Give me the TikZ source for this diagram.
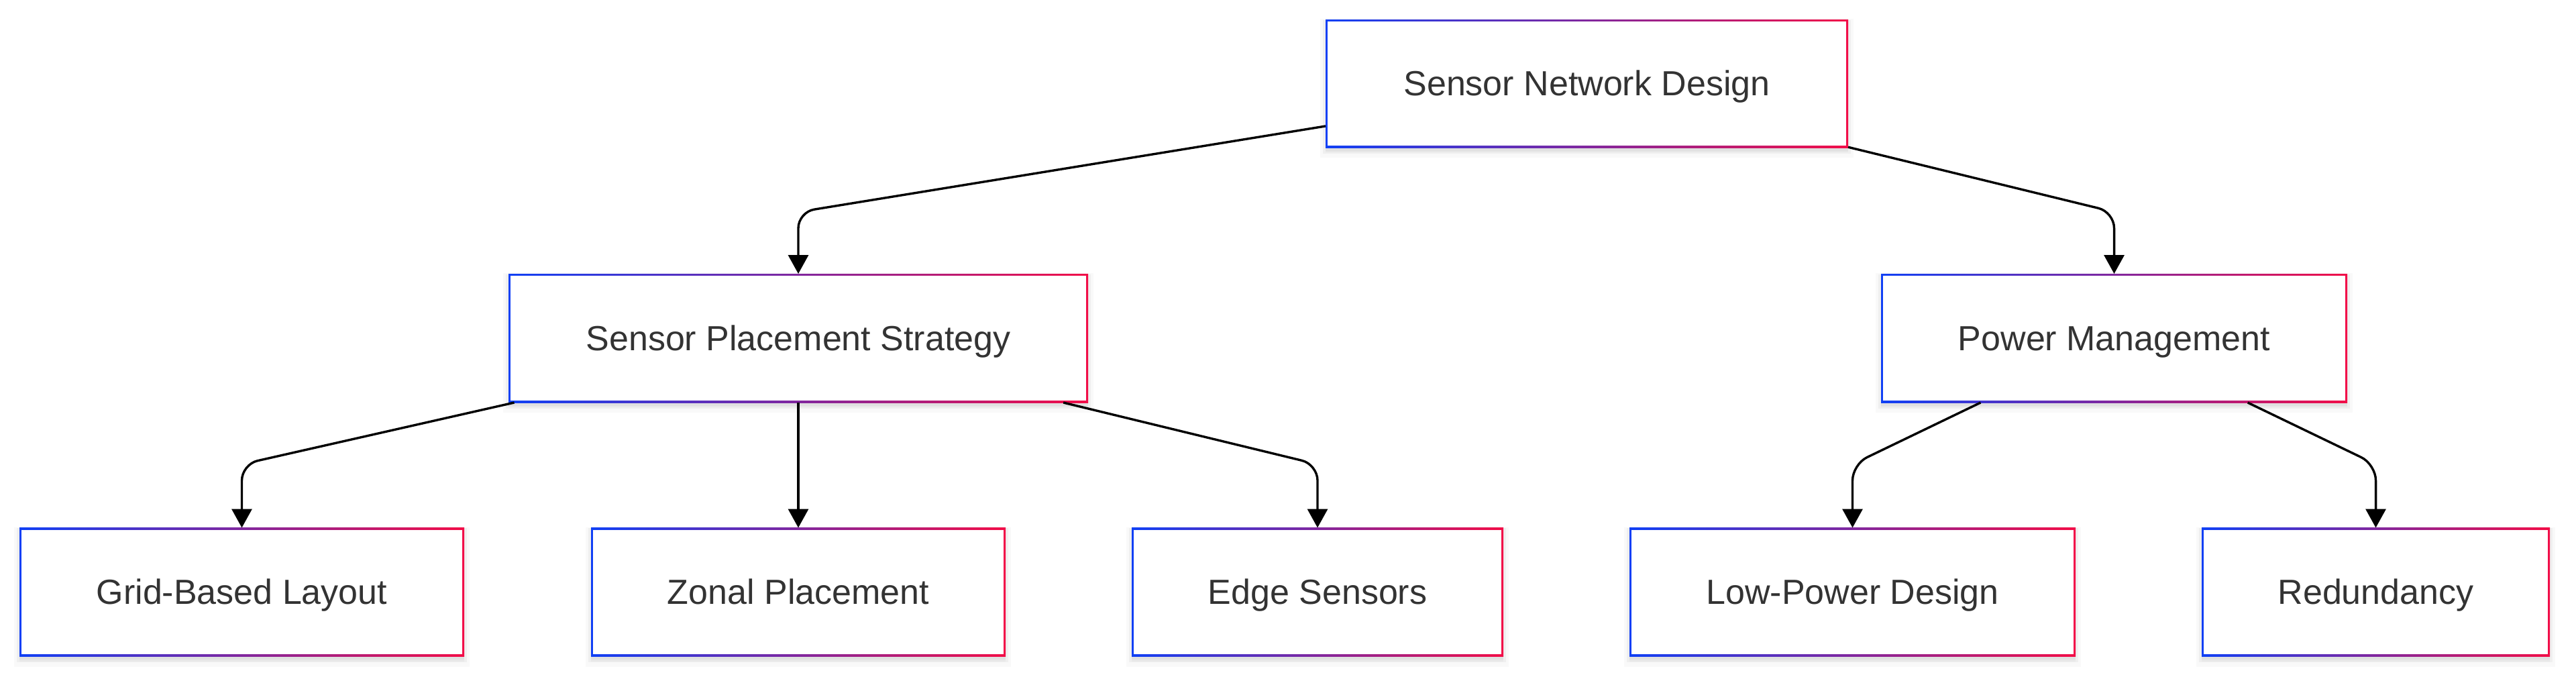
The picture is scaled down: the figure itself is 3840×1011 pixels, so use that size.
\documentclass[tikz,border=0pt]{standalone}
\usepackage{fontspec}
\setmainfont{Liberation Sans}
\usetikzlibrary{arrows.meta}
\definecolor{gblue}{RGB}{16,64,245}
\definecolor{gred}{RGB}{242,14,72}
\definecolor{txt}{RGB}{51,51,51}
\tikzset{
  softshadow/.style={
    preaction={fill=black, fill opacity=0.03, draw=black, draw opacity=0.025, line width=4pt, transform canvas={yshift=-1.8pt}},
    preaction={fill=black, fill opacity=0.03, draw=black, draw opacity=0.04, line width=2pt, transform canvas={yshift=-1.2pt}}},
  box/.style={rectangle, inner sep=0pt, outer sep=0pt, minimum height=48pt,
    text height=9.6pt, text depth=0.4pt,
    text=txt, font=\fontsize{13pt}{15pt}\selectfont,
    softshadow, left color=gblue, right color=gred,
    path picture={\fill[white] ([shift={(0.8pt,0.8pt)}]path picture bounding box.south west) rectangle ([shift={(-0.8pt,-0.8pt)}]path picture bounding box.north east);}},
  link/.style={draw=black, line width=0.85pt, rounded corners=6pt, -{Triangle[length=7pt,width=7.5pt]}}
}
\begin{document}
\begin{tikzpicture}[x=0.25pt, y=-0.25pt]
\useasboundingbox (0,0) rectangle (3840,1011);
% nodes
\node[box, minimum width=194.75pt, minimum height=47.75pt] (root) at (2365.5,124.5) {Sensor Network Design};
\node[box, minimum width=216pt] (sps) at (1190,504) {Sensor Placement Strategy};
\node[box, minimum width=173.75pt] (pm) at (3151.5,504) {Power Management};
\node[box, minimum width=165.75pt] (grid) at (360.5,882.5) {Grid-Based Layout};
\node[box, minimum width=154.5pt] (zonal) at (1190,882.5) {Zonal Placement};
\node[box, minimum width=138.5pt] (edge) at (1964,882.5) {Edge Sensors};
\node[box, minimum width=166.25pt] (low) at (2761.5,882.5) {Low-Power Design};
\node[box, minimum width=129.75pt] (red) at (3541.5,882.5) {Redundancy};
% bend points
\coordinate (k1) at (1190,316);
\coordinate (k2) at (3151.5,316);
\coordinate (k3) at (360.5,692);
\coordinate (k4) at (1964,692);
\coordinate (k5) at (2761.5,692);
\coordinate (k6) at (3541.5,692);
% connectors
\draw[link] (root) -- (k1) -- (sps.north);
\draw[link] (root) -- (k2) -- (pm.north);
\draw[link] (sps) -- (k3) -- (grid.north);
\draw[link] (sps.south) -- (zonal.north);
\draw[link] (sps) -- (k4) -- (edge.north);
\draw[link] (pm) -- (k5) -- (low.north);
\draw[link] (pm) -- (k6) -- (red.north);
\end{tikzpicture}
\end{document}
